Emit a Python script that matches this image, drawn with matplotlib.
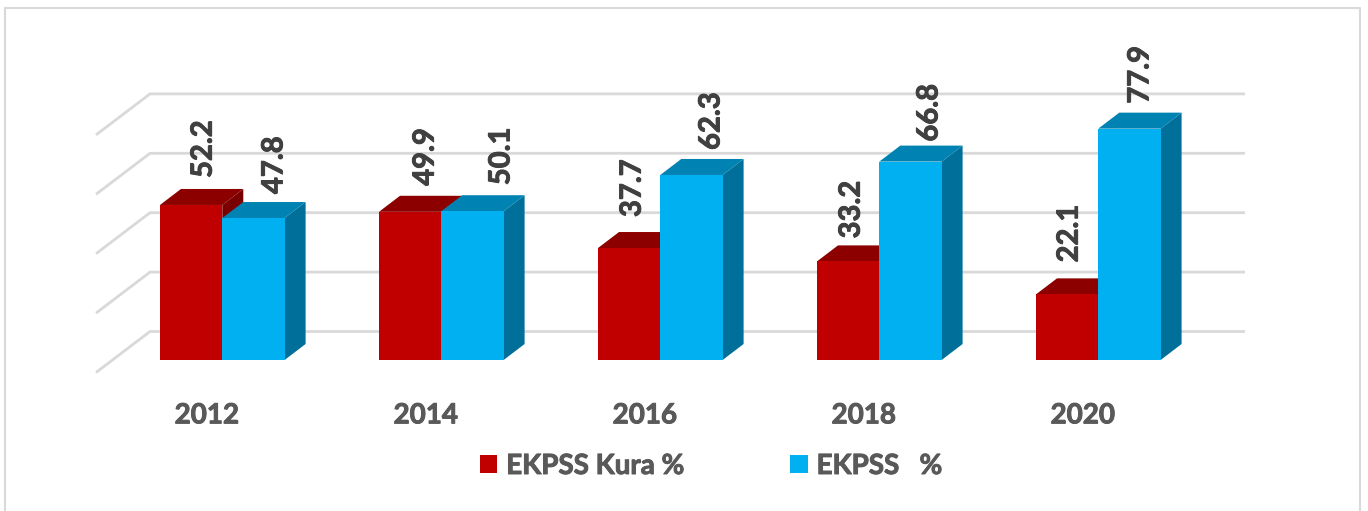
import matplotlib
matplotlib.use("Agg")
import matplotlib.pyplot as plt
import matplotlib.patheffects as pe
from matplotlib.patches import Polygon, Patch, Rectangle
from matplotlib.lines import Line2D

years = ["2012", "2014", "2016", "2018", "2020"]
kura = [52.2, 49.9, 37.7, 33.2, 22.1]
ekpss = [47.8, 50.1, 62.3, 66.8, 77.9]
grid_levels = [0, 20, 40, 60, 80]
series_names = ["EKPSS Kura %", "EKPSS   %"]

# label placement (px from the bar's front-face centre / top)
kura_lbl_dx = [11, 14, 2, 2, 1]
ekpss_lbl_dx = [19.5, 27.5, 18.5, 17.5, 9.5]
kura_lbl_gap = [27, 26, 31, 23, 32]
ekpss_lbl_gap = [24, 26, 25, 20, 25]

W, H = 1368, 511
BASE_PX = 360
PX_PER_UNIT = 2.97
PX_PER_CAT = 219
LEFT_PX = 160
BAR_W = 62.3 / PX_PER_CAT
DX = 21 / PX_PER_CAT
DY = 16 / PX_PER_UNIT
WALL_DY = 28.5 / PX_PER_UNIT
WALL_X0 = -10 / PX_PER_CAT
WALL_X1 = 1085 / PX_PER_CAT
DIAG_DX = -54 / PX_PER_CAT
DIAG_DY = -41 / PX_PER_UNIT

RED = ("#C00000", "#8C0000", "#7A0000")
BLUE = ("#00B0F0", "#0083B3", "#006F99")
GRID = "#D9D9D9"
TXT = "#595959"
LBL = "#404040"
FONT = "Lato"


def heavy(col, w=0.7):
    return [pe.withStroke(linewidth=w, foreground=col)]


fig = plt.figure(figsize=(W / 100, H / 100), dpi=100, facecolor="white")
ax = fig.add_axes([0, (H - BASE_PX) / H, 1, BASE_PX / H])
ax.set_xlim(-LEFT_PX / PX_PER_CAT, (W - LEFT_PX) / PX_PER_CAT)
ax.set_ylim(0, BASE_PX / PX_PER_UNIT)
for s in ax.spines.values():
    s.set_visible(False)
ax.patch.set_alpha(0)
ax.set_yticks([])

fig.add_artist(Line2D([5 / W, 5 / W, 1360 / W, 1360 / W], [0, 1 - 8 / H, 1 - 8 / H, 0],
                      color=GRID, lw=1.5, transform=fig.transFigure))

for g in grid_levels:
    yb = g + WALL_DY
    ax.plot([WALL_X0 + DIAG_DX, WALL_X0, WALL_X1], [yb + DIAG_DY, yb, yb],
            color=GRID, lw=2, clip_on=False, zorder=1, solid_joinstyle="miter",
            solid_capstyle="butt")


def bar3d(x, v, cols, z):
    x1 = x + BAR_W
    ax.add_patch(Polygon([(x1, 0), (x1 + DX, DY), (x1 + DX, v + DY), (x1, v)], closed=True,
                         fc=cols[2], ec="none", zorder=z))
    ax.add_patch(Polygon([(x, v), (x + DX, v + DY), (x1 + DX, v + DY), (x1, v)], closed=True,
                         fc=cols[1], ec="none", zorder=z))
    ax.add_patch(Rectangle((x, 0), BAR_W, v, fc=cols[0], ec="none", zorder=z + 0.1))


def value_label(x0, v, dx_px, gap_px):
    ax.text(x0 + BAR_W / 2 + (dx_px + 1.5) / PX_PER_CAT, v + gap_px / PX_PER_UNIT, f"{v:.1f}",
            rotation=90, ha="center", va="bottom", color=LBL, fontsize=21, fontweight="bold",
            family=FONT, zorder=10, path_effects=heavy(LBL))


for i, (a, b) in enumerate(zip(kura, ekpss)):
    bar3d(i, a, RED, 2 + i)
    bar3d(i + BAR_W, b, BLUE, 2.5 + i)
    value_label(i, a, kura_lbl_dx[i], kura_lbl_gap[i])
    value_label(i + BAR_W, b, ekpss_lbl_dx[i], ekpss_lbl_gap[i])

ax.set_xticks([i + BAR_W - 15.5 / PX_PER_CAT for i in range(len(years))])
ax.set_xticklabels(years, fontsize=20, fontweight="bold", family=FONT, color=TXT,
                   path_effects=heavy(TXT))
ax.tick_params(axis="x", length=0, pad=30.5)

handles = [Patch(fc=RED[0], ec="none", label=series_names[0]),
           Patch(fc=BLUE[0], ec="none", label=series_names[1])]
leg = fig.legend(handles=handles, loc="center", bbox_to_anchor=(711 / W, 1 - 466 / H), ncol=2,
                 frameon=False, handlelength=0.64, handleheight=0.64, handletextpad=0.32,
                 columnspacing=3.8, borderpad=0, borderaxespad=0,
                 prop={"family": FONT, "weight": "bold", "size": 20}, labelcolor=TXT)
for t in leg.get_texts():
    t.set_path_effects(heavy(TXT))

fig.savefig("out.png", dpi=100, facecolor="white")
